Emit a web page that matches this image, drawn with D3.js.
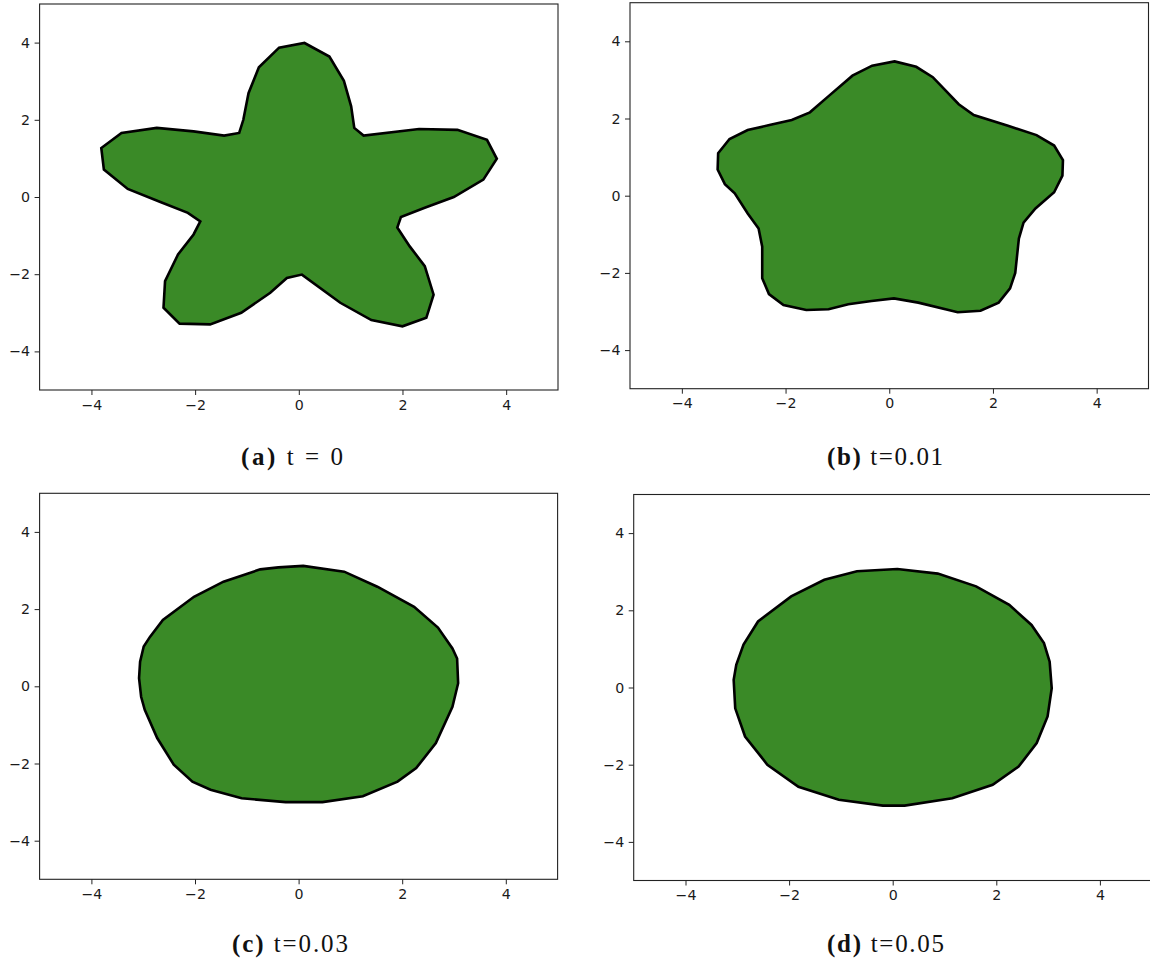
<!DOCTYPE html>
<html>
<head>
<meta charset="utf-8">
<script src="https://cdn.jsdelivr.net/npm/d3@7"></script>
<style>
  html, body { margin: 0; padding: 0; background: #fff; }
  svg { display: block; }
  .tick text { font-family: "DejaVu Sans", sans-serif; font-size: 14.2px; fill: #1a1a1a; }
  .caption { font-family: "Liberation Serif", serif; font-size: 25px; fill: #111; }
</style>
</head>
<body>
<svg id="fig" width="1150" height="963"></svg>
<script>
// Boundary of the interface at each time step, as closed polygons (x, y).
const boundaryT000 = [
  [0.11, 3.99], [0.59, 3.64], [0.87, 3.01], [1.01, 2.35], [1.07, 1.79], [1.25, 1.59],
  [2.32, 1.76], [3.06, 1.74], [3.63, 1.48], [3.82, 0.99], [3.56, 0.45], [2.99, 0.00],
  [2.43, -0.28], [1.97, -0.52], [1.90, -0.79], [2.14, -1.28], [2.43, -1.79], [2.60, -2.53],
  [2.46, -3.13], [2.00, -3.35], [1.40, -3.19], [0.80, -2.74], [0.06, -2.01], [-0.23, -2.10],
  [-0.55, -2.48], [-1.11, -3.00], [-1.71, -3.30], [-2.30, -3.28], [-2.61, -2.87], [-2.58, -2.18],
  [-2.33, -1.49], [-2.03, -0.97], [-1.90, -0.63], [-2.14, -0.41], [-2.67, -0.13], [-3.30, 0.21],
  [-3.76, 0.71], [-3.81, 1.27], [-3.42, 1.66], [-2.74, 1.79], [-2.03, 1.70], [-1.44, 1.59],
  [-1.15, 1.66], [-1.07, 2.00], [-0.97, 2.69], [-0.77, 3.36], [-0.38, 3.87]
];

const boundaryT001 = [
  [0.10, 3.48], [0.52, 3.34], [0.84, 3.07], [1.34, 2.37], [1.63, 2.09], [2.29, 1.81],
  [2.84, 1.57], [3.18, 1.30], [3.35, 0.92], [3.34, 0.52], [3.18, 0.09], [2.82, -0.33],
  [2.59, -0.70], [2.50, -1.11], [2.43, -2.00], [2.33, -2.40], [2.11, -2.77], [1.76, -2.98],
  [1.32, -3.02], [0.56, -2.77], [0.09, -2.66], [-0.34, -2.73], [-0.79, -2.81], [-1.17, -2.94],
  [-1.60, -2.96], [-2.04, -2.83], [-2.32, -2.55], [-2.45, -2.14], [-2.45, -1.32], [-2.52, -0.85],
  [-2.73, -0.46], [-2.98, 0.06], [-3.17, 0.30], [-3.31, 0.68], [-3.30, 1.10], [-3.08, 1.47],
  [-2.73, 1.70], [-2.31, 1.83], [-1.88, 1.96], [-1.53, 2.16], [-1.17, 2.58], [-0.71, 3.11],
  [-0.33, 3.37]
];

const boundaryT003 = [
  [0.09, 3.12], [-0.39, 3.08], [-0.74, 3.03], [-1.45, 2.71], [-2.02, 2.32], [-2.62, 1.72],
  [-2.87, 1.28], [-2.99, 1.03], [-3.06, 0.64], [-3.08, 0.21], [-3.04, -0.27], [-2.97, -0.61],
  [-2.73, -1.34], [-2.41, -2.03], [-2.05, -2.47], [-1.70, -2.68], [-1.10, -2.90], [-0.25, -3.00],
  [0.46, -3.00], [1.24, -2.85], [1.91, -2.47], [2.27, -2.12], [2.65, -1.47], [2.97, -0.53],
  [3.08, 0.08], [3.06, 0.72], [2.97, 0.98], [2.69, 1.52], [2.23, 2.06], [1.52, 2.58],
  [0.88, 2.97]
];

const boundaryT005 = [
  [0.09, 3.07], [-0.69, 3.01], [-1.32, 2.79], [-1.96, 2.36], [-2.60, 1.71], [-2.88, 1.11],
  [-3.02, 0.59], [-3.07, 0.20], [-3.04, -0.54], [-2.85, -1.27], [-2.42, -2.00], [-1.82, -2.57],
  [-1.04, -2.91], [-0.19, -3.06], [0.23, -3.06], [1.15, -2.87], [1.93, -2.52], [2.43, -2.05],
  [2.78, -1.44], [2.99, -0.75], [3.07, -0.02], [3.03, 0.67], [2.92, 1.15], [2.68, 1.62],
  [2.25, 2.14], [1.61, 2.62], [0.87, 2.95]
];

const axisDomain = [-5, 5];
const tickValues = [-4, -2, 0, 2, 4];
const panelLabels = ["(a)", "(b)", "(c)", "(d)"];
const panelTimes = ["t = 0", "t=0.01", "t=0.03", "t=0.05"];

// Panel placement on the page (pixels) and caption widths.
const panels = [
  { data: boundaryT000, x0: 39.6, x1: 558.0, y0: 4.0,   y1: 390.0, cx: 292, cy: 465, cw: 102 },
  { data: boundaryT001, x0: 630.0, x1: 1148.5, y0: 2.7, y1: 388.7, cx: 885, cy: 465, cw: 116 },
  { data: boundaryT003, x0: 39.6, x1: 557.6, y0: 493.3, y1: 879.3, cx: 290, cy: 952, cw: 116 },
  { data: boundaryT005, x0: 633.7, x1: 1151.7, y0: 494.5, y1: 880.5, cx: 885.5, cy: 952, cw: 117 }
];

const fillColor = "#3a8a27";
const svg = d3.select("#fig");
const fmt = d => d < 0 ? "\u2212" + Math.abs(d) : String(d);

panels.forEach((p, i) => {
  const x = d3.scaleLinear().domain(axisDomain).range([p.x0, p.x1]);
  const y = d3.scaleLinear().domain(axisDomain).range([p.y1, p.y0]);
  const g = svg.append("g");

  const line = d3.line().x(d => x(d[0])).y(d => y(d[1])).curve(d3.curveLinearClosed);
  g.append("path")
    .attr("d", line(p.data))
    .attr("fill", fillColor)
    .attr("stroke", "#000")
    .attr("stroke-width", 2.6)
    .attr("stroke-linejoin", "miter");

  // Axes frame
  g.append("rect")
    .attr("x", p.x0).attr("y", p.y0)
    .attr("width", p.x1 - p.x0).attr("height", p.y1 - p.y0)
    .attr("fill", "none").attr("stroke", "#222").attr("stroke-width", 1.1);

  const xAxis = d3.axisBottom(x).tickValues(tickValues).tickSize(5).tickPadding(4.5).tickFormat(fmt);
  const yAxis = d3.axisLeft(y).tickValues(tickValues).tickSize(5).tickPadding(4.5).tickFormat(fmt);

  const gx = g.append("g").attr("transform", `translate(0,${p.y1})`).call(xAxis);
  const gy = g.append("g").attr("transform", `translate(${p.x0},0)`).call(yAxis);
  [gx, gy].forEach(a => {
    a.select(".domain").remove();
    a.selectAll(".tick line").attr("stroke", "#222").attr("stroke-width", 1);
  });

  const cap = svg.append("text")
    .attr("class", "caption")
    .attr("x", p.cx).attr("y", p.cy)
    .attr("text-anchor", "middle")
    .attr("textLength", p.cw)
    .attr("lengthAdjust", "spacing");
  cap.append("tspan").attr("font-weight", "bold").text(panelLabels[i]);
  cap.append("tspan").text("\u00a0" + panelTimes[i]);
});
</script>
</body>
</html>
